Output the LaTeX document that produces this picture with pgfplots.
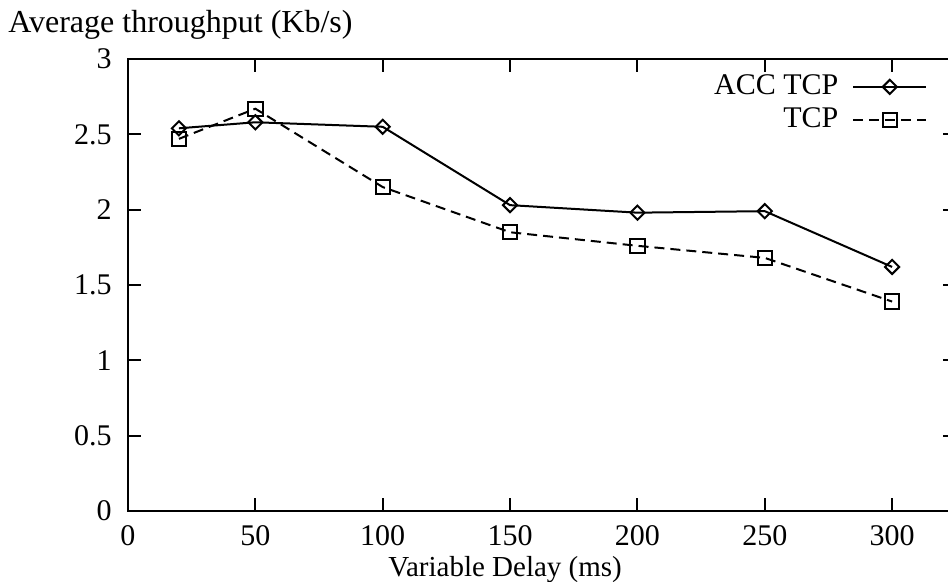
\documentclass[border=0pt]{standalone}
\usepackage{fontspec}
\setmainfont{Liberation Serif}
\usepackage{pgfplots}
\pgfplotsset{compat=1.18}
\begin{document}
\fontsize{15}{17}\selectfont
\begin{tikzpicture}
\begin{axis}[name=ax, scale only axis, width=413.9pt, height=226pt,
  xmin=0, xmax=325, ymin=0, ymax=3,
  xtick={0,50,...,300}, ytick={0,0.5,...,3},
  tick align=inside, major tick length=6.5pt,
  axis line style={line width=1pt},
  every tick/.style={black, line width=1pt},
  /pgf/number format/assume math mode=true,
  tick label style={font=\fontsize{15}{17}\selectfont},
  yticklabel style={xshift=-3pt},
  xticklabel style={yshift=-2pt},
  xlabel={Variable Delay (ms)},
  xlabel style={at={(axis description cs:0.4555,0)}, anchor=base, yshift=-33pt, font=\fontsize{14.5}{17}\selectfont},
  ylabel={Average throughput (Kb/s)},
  ylabel style={rotate=-90, at={(axis description cs:0,1)}, anchor=base west, inner sep=0pt, xshift=-60pt, yshift=13pt, font=\fontsize{16}{18}\selectfont},
  legend plot pos=right,
  legend cell align=right,
  legend style={draw=none, fill=none, at={(axis description cs:0.966,0.975)}, anchor=north east, inner sep=0pt, row sep=0.5pt, column sep=5pt, font=\fontsize{15}{17}\selectfont},
  legend image code/.code={\draw[mark repeat=2, mark phase=2] plot coordinates {(0cm,0cm) (0.64cm,0cm) (1.28cm,0cm)};},
]
\addplot[black, line width=1pt, mark=square, mark size=2.5pt, mark options={solid, rotate=45, fill=white}]
  coordinates {(20,2.54) (50,2.58) (100,2.55) (150,2.03) (200,1.98) (250,1.99) (300,1.62)};
\addlegendentry{ACC TCP}
\addplot[black, line width=1pt, dash pattern=on 5pt off 3pt, mark=square, mark size=3.6pt, mark options={solid, fill=none}]
  coordinates {(20,2.47) (50,2.67) (100,2.15) (150,1.85) (200,1.76) (250,1.68) (300,1.39)};
\addlegendentry{TCP}
\end{axis}
\pgfresetboundingbox
\path[use as bounding box] ([xshift=-64pt,yshift=-35.5pt]ax.south west) rectangle ([xshift=410pt,yshift=29.5pt]ax.north west);
\end{tikzpicture}
\end{document}
